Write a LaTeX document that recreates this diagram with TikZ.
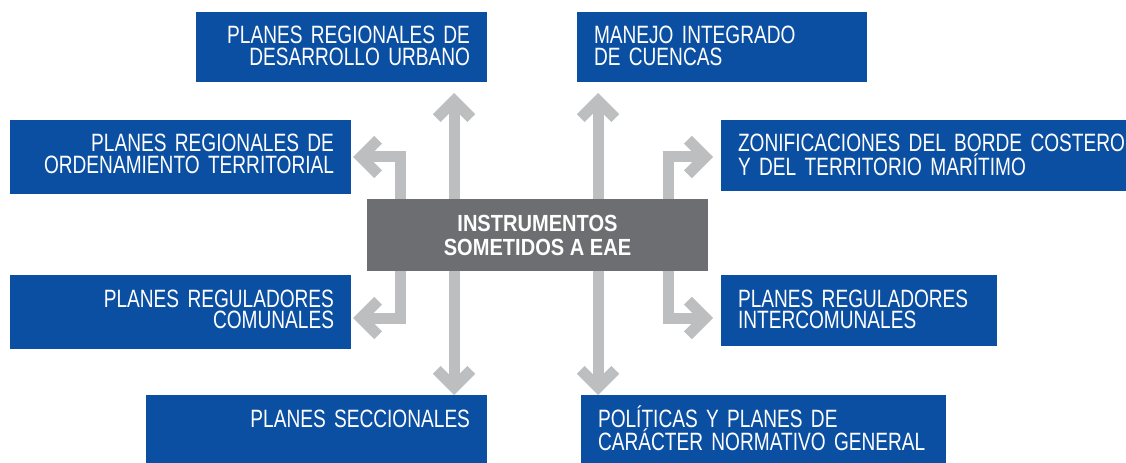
\documentclass[tikz,border=0pt]{standalone}
\usepackage{fontspec}
\setmainfont{Liberation Sans}[FakeStretch=0.762]
\newfontfamily\hubfont{Liberation Sans}[FakeStretch=0.86]
\usetikzlibrary{arrows.meta}
\hyphenpenalty=10000
\definecolor{eaeblue}{RGB}{11,79,162}
\definecolor{eaegray}{RGB}{109,110,113}
\definecolor{flowgray}{RGB}{188,190,192}
\tikzset{
    outbox/.style={rectangle, fill=eaeblue, text=white, inner xsep=12.75pt, inner ysep=0pt, outer sep=0pt, text height=24pt, font=\fontsize{18.8pt}{16.2pt}\selectfont},
    leftbox/.style={outbox, anchor=north west, align=left},
    rightbox/.style={outbox, anchor=north west, align=right},
    hubbox/.style={rectangle, fill=eaegray, text=white, minimum width=255.75pt, minimum height=54pt, inner sep=0pt, outer sep=0pt, align=center, font=\hubfont\bfseries\fontsize{17.5pt}{18pt}\selectfont},
    flow/.style={draw=flowgray, line width=8.25pt, -{Straight Barb[length=13pt, width=26pt]}},
}

\begin{document}
\begin{tikzpicture}[x=0.75pt, y=-0.75pt]
    \useasboundingbox (0,0) rectangle (1126,463);

    \node[rightbox, text width=192.75pt, text depth=28.5pt] (prdu) at (196,12) {PLANES REGIONALES DE\\DESARROLLO URBANO};
    \node[leftbox, text width=192pt, text depth=28.5pt] (mic) at (577,12) {MANEJO INTEGRADO\\DE CUENCAS};
    \node[rightbox, text width=230.25pt, text depth=31.5pt] (prot) at (10,120) {PLANES REGIONALES DE\\ORDENAMIENTO TERRITORIAL};
    \node[leftbox, text width=330pt, text depth=29.25pt] (zbc) at (721,120) {ZONIFICACIONES DEL BORDE COSTERO\\Y DEL TERRITORIO MARÍTIMO};
    \node[hubbox] (eae) at (537.5,235) {INSTRUMENTOS\\SOMETIDOS A EAE};
    \node[rightbox, text width=230.25pt, text depth=31.5pt] (prc) at (10,275) {PLANES REGULADORES\\COMUNALES};
    \node[leftbox, text width=181.5pt, text depth=29.25pt] (pri) at (721,275) {PLANES REGULADORES\\INTERCOMUNALES};
    \node[rightbox, text width=230.25pt, text depth=28.5pt] (ps) at (146,395) {PLANES SECCIONALES};
    \node[leftbox, text width=248.25pt, text depth=28.5pt] (ppn) at (581,395) {POLÍTICAS Y PLANES DE\\CARÁCTER NORMATIVO GENERAL};

    % columns and rows of the connectors
    \coordinate (xa) at (400,0);
    \coordinate (xb) at (454,0);
    \coordinate (xc) at (598,0);
    \coordinate (xd) at (668,0);
    \coordinate (ya) at (0,157);
    \coordinate (yb) at (0,318);

    \draw[flow, shorten >=8.25pt] (eae.north -| xb) -- (prdu.south -| xb);
    \draw[flow, shorten >=8.25pt] (eae.north -| xc) -- (mic.south -| xc);
    \draw[flow] (eae.south -| xb) -- (ps.north -| xb);
    \draw[flow] (eae.south -| xc) -- (ppn.north -| xc);
    \draw[flow, shorten >=1.5pt] (eae.north -| xa) |- (prot.east |- ya);
    \draw[flow, shorten >=6pt] (eae.north -| xd) |- (zbc.west |- ya);
    \draw[flow, shorten >=1.5pt] (eae.south -| xa) |- (prc.east |- yb);
    \draw[flow, shorten >=6pt] (eae.south -| xd) |- (pri.west |- yb);
\end{tikzpicture}
\end{document}
